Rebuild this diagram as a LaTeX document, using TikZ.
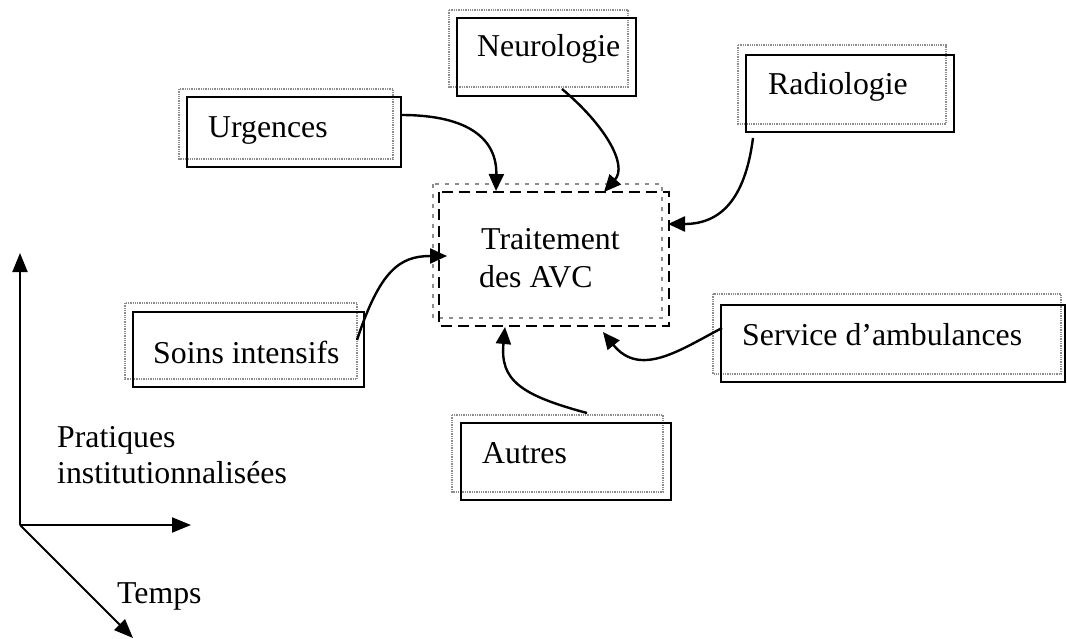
\documentclass[tikz,border=0pt]{standalone}
\usepackage{fontspec}
\setmainfont{Liberation Serif}
\usetikzlibrary{arrows.meta}
\begin{document}
\begin{tikzpicture}[x=1pt,y=-1pt,
  shadowframe/.style={draw=black!45,line width=1.3pt,densely dotted},
  mainframe/.style={draw=black,line width=2.6pt},
  lbl/.style={anchor=base west,inner sep=0pt,font=\fontsize{31.8}{36}\selectfont},
  link/.style={draw=black,line width=2.4pt,-{Triangle[length=17pt,width=15pt]}},
  axis/.style={draw=black,line width=2pt,-{Triangle[length=19pt,width=15pt]}}]
\useasboundingbox[fill=white] (0,0) rectangle (1067,639);

% boxes: light shadow frame, then the heavy frame
\draw[shadowframe] (179,89) rectangle (393,159);
\draw[mainframe] (187,97) rectangle (401,167);
\node[lbl] (urg) at (208,138) {Urgences};

\draw[shadowframe] (449,10) rectangle (628,87);
\draw[mainframe] (457,18) rectangle (636,96);
\node[lbl] (neu) at (477,57) {Neurologie};

\draw[shadowframe] (738,45) rectangle (946,124);
\draw[mainframe] (746,55) rectangle (954,132);
\node[lbl] (rad) at (768,95) {Radiologie};

\draw[shadowframe] (125,303) rectangle (357,379);
\draw[mainframe] (133,312) rectangle (364,387);
\node[lbl] (soi) at (153,363) {Soins intensifs};

\draw[shadowframe] (452,415) rectangle (663,492);
\draw[mainframe] (461,423) rectangle (671,500);
\node[lbl] (aut) at (482,463) {Autres};

\draw[shadowframe] (713,294) rectangle (1061,374);
\draw[mainframe] (721,305) rectangle (1065,382);
\node[lbl] (amb) at (742,345) {Service d’ambulances};

% central box
\draw[shadowframe,dash pattern=on 4pt off 6pt] (433,184) rectangle (662,318);
\draw[draw=black,line width=2.6pt,dash pattern=on 11pt off 6pt] (439,192) rectangle (669,326);
\node[lbl] (trt) at (481,249) {Traitement};
\node[lbl] (avc) at (479,287) {des AVC};

% connector ends
\coordinate (urgOut) at (401,115);
\coordinate (urgIn) at (496,191);
\coordinate (neuOut) at (562,89);
\coordinate (neuIn) at (604,192);
\coordinate (radOut) at (753,138);
\coordinate (radIn) at (668,224);
\coordinate (soiOut) at (357,340);
\coordinate (soiIn) at (447,256);
\coordinate (ambOut) at (722,328);
\coordinate (ambIn) at (603,332);
\coordinate (autOut) at (587,413);
\coordinate (autIn) at (505,327);

\draw[link] (urgOut) .. controls (470,115) and (497,140) .. (urgIn);
\draw[link] (neuOut) .. controls (605,125) and (628,165) .. (neuIn);
\draw[link] (radOut) .. controls (745,200) and (720,224) .. (radIn);
\draw[link] (soiOut) .. controls (380,270) and (400,256) .. (soiIn);
\draw[link] (ambOut) .. controls (680,350) and (640,378) .. (ambIn);
\draw[link] (autOut) .. controls (520,395) and (500,380) .. (autIn);

% axes
\coordinate (o) at (20,525);
\coordinate (up) at (20,253);
\coordinate (right) at (191,525);
\coordinate (diag) at (133,638);
\draw[axis] (o) -- (up);
\draw[axis] (o) -- (right);
\draw[axis] (o) -- (diag);
\node[lbl] (prat) at (57,447) {Pratiques};
\node[lbl] (inst) at (57,483) {institutionnalisées};
\node[lbl] (tmp) at (117,603) {Temps};
\end{tikzpicture}
\end{document}
